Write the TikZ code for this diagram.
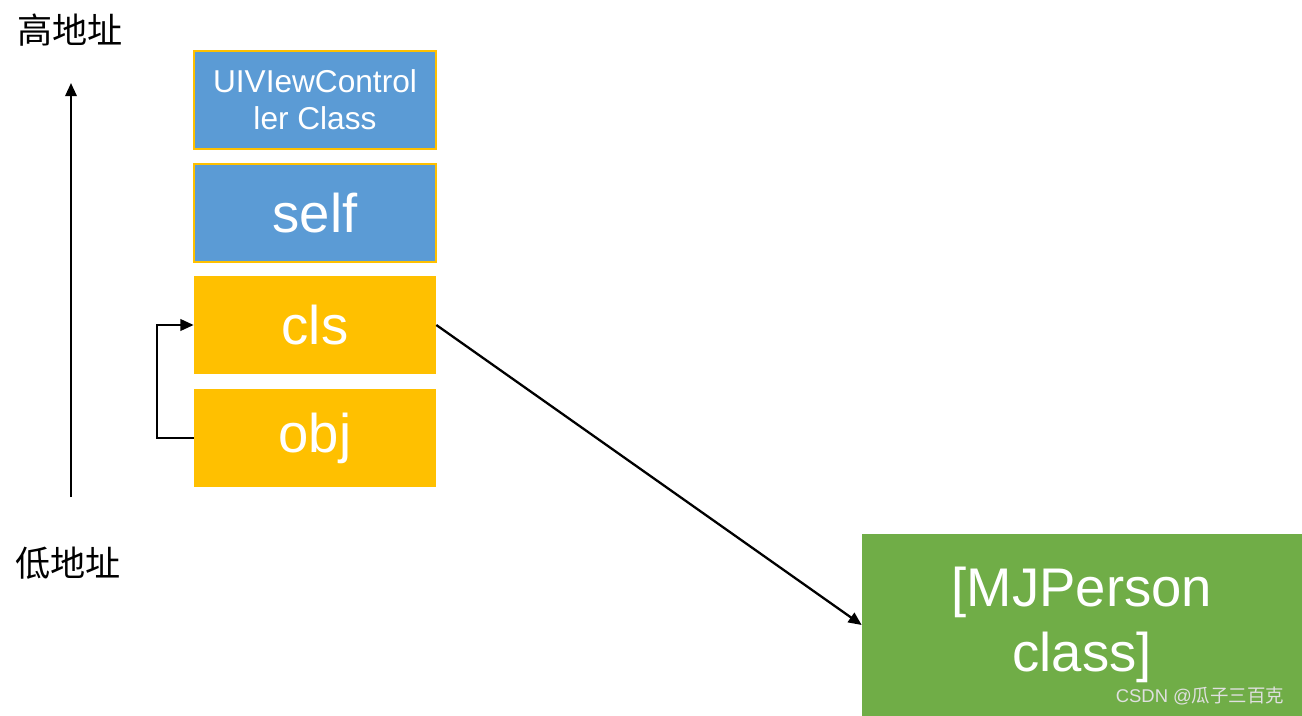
\documentclass[tikz,border=0pt]{standalone}
\usepackage{fontspec}
\setmainfont{Liberation Sans}
\newfontfamily\cjk{Noto Sans CJK SC}
\usetikzlibrary{arrows.meta,positioning}

\definecolor{slotblue}{HTML}{5B9BD5}
\definecolor{slotorange}{HTML}{FFC000}
\definecolor{classgreen}{HTML}{70AD47}

\begin{document}
\begin{tikzpicture}[
    x=0.02cm, y=-0.02cm,
    slot/.style={rectangle, minimum width=4.84cm, minimum height=1.96cm, inner sep=0pt, text=white, align=center},
    blueslot/.style={slot, fill=slotblue, draw=slotorange, line width=1.1pt},
    orangeslot/.style={slot, fill=slotorange},
    big/.style={font=\fontsize{31}{37}\selectfont},
    addr/.style={font=\cjk\fontsize{20}{24}\selectfont},
    arrow/.style={-{Triangle[length=7.5pt,width=6.5pt]}, line width=1.3pt}
]
\useasboundingbox (0,0) rectangle (1302,716);

% Address labels
\node[addr] (high) at (70, 30) {高地址};
\node[addr] (low) at (68, 563) {低地址};
\coordinate (up0) at (71, 497);
\coordinate (up1) at (71, 83);
\draw[arrow] (up0) -- (up1);

% Stack slots
\node[blueslot, font=\fontsize{18}{21}\selectfont] (vcclass) at (315, 100) {UIVIewControl\\ler Class};
\node[blueslot, big] (self) at (315, 213) {self};
\node[orangeslot, big] (cls) at (315, 325) {cls};
\node[orangeslot, big] (obj) at (315, 438) {obj};

% Class object
\node[rectangle, fill=classgreen, minimum width=8.8cm, minimum height=3.64cm, inner sep=0pt,
      text=white, align=center, big] (person) at (1082, 625) {[MJPerson\\class]};

% Pointers
\draw[arrow] (obj.west) -- ++(-37, 0) |- (cls.west);
\draw[arrow] (cls.east) -- (person.west);

% Watermark
\node[text=white!88!black, font=\fontsize{10.5}{12}\selectfont] (mark) at (1200, 696) {CSDN @{\cjk 瓜子三百克}};

\end{tikzpicture}
\end{document}
